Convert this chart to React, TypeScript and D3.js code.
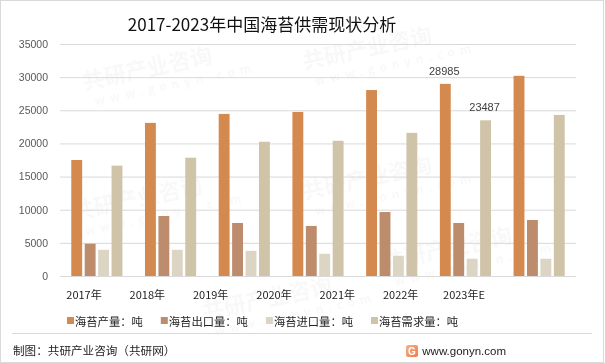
import * as d3 from "d3";
import { useEffect, useRef } from "react";

const years = ["2017年", "2018年", "2019年", "2020年", "2021年", "2022年", "2023年E"];
const seriesNames = ["海苔产量：吨", "海苔出口量：吨", "海苔进口量：吨", "海苔需求量：吨"];
const seriesColors = ["#D4894E", "#BC8C6C", "#DDD5C3", "#CFC4A8"];

const production = [17500, 23100, 24450, 24750, 28050, 28985, 30200];
const exports = [4870, 9050, 8000, 7550, 9650, 8000, 8450];
const imports = [3950, 3950, 3800, 3350, 3050, 2600, 2600];
const demand = [16650, 17850, 20250, 20400, 21600, 23487, 24300];

const yTicks = [0, 5000, 10000, 15000, 20000, 25000, 30000, 35000];
// only these two bars carry a value label in the source
const labelled = [
  { year: "2022年", series: 0 },
  { year: "2022年", series: 3 },
];

const W = 605;
const H = 363;

function App() {
  const svgRef = useRef(null);

  useEffect(() => {
    const svg = d3.select(svgRef.current);
    svg.selectAll("*").remove();

    const values = [production, exports, imports, demand];

    // faint watermark
    const wm = svg.append("g").attr("fill", "#000").attr("opacity", 0.03)
      .style("font-family", "'Noto Sans CJK SC', sans-serif").style("font-weight", "bold");
    [[80, 70], [300, 50], [70, 200], [300, 180], [380, 250], [200, 300]]
      .forEach(([x, y]) => {
        const g = wm.append("g").attr("transform", `translate(${x},${y}) rotate(-12)`);
        g.append("text").attr("x", 0).attr("y", 20).style("font-size", "22px").text("共研产业咨询");
        g.append("text").attr("x", 8).attr("y", 38).style("font-size", "12px")
          .style("letter-spacing", "5px").text("www.gonyn.com");
      });

    // border
    svg.append("rect").attr("x", 0.5).attr("y", 0.5).attr("width", W - 2).attr("height", H - 1)
      .attr("fill", "none").attr("stroke", "#d9d9d9");

    svg.append("text")
      .attr("x", 262).attr("y", 31)
      .attr("text-anchor", "middle")
      .style("font-family", "'Noto Sans CJK SC', sans-serif")
      .style("font-size", "17px")
      .attr("fill", "#111")
      .text("2017-2023年中国海苔供需现状分析");

    const xScale = d3.scaleBand().domain(years).range([60, 576]);
    const inner = d3.scaleBand()
      .domain(d3.range(4).map(String))
      .range([0, xScale.bandwidth()])
      .paddingInner(0.19)
      .paddingOuter(0.84);
    const yScale = d3.scaleLinear().domain([0, 35000]).range([276, 44]);

    const yAxis = d3.axisLeft(yScale).tickValues(yTicks).tickFormat(d3.format("d"))
      .tickSize(-(576 - 60)).tickPadding(12);
    const ya = svg.append("g").attr("transform", "translate(60,0)").call(yAxis);
    ya.select(".domain").remove();
    ya.selectAll(".tick line").attr("stroke", "#d9d9d9");
    ya.selectAll(".tick text")
      .attr("fill", "#595959")
      .style("font-family", "'Liberation Sans', Arial, sans-serif")
      .style("font-size", "10.5px");

    const groups = svg.append("g").selectAll("g").data(years).join("g")
      .attr("transform", (d) => `translate(${xScale(d)},0)`);

    groups.selectAll("rect")
      .data((d, i) => values.map((v, s) => ({ s, v: v[i] })))
      .join("rect")
      .attr("x", (d) => inner(String(d.s)))
      .attr("width", inner.bandwidth())
      .attr("y", (d) => yScale(d.v))
      .attr("height", (d) => yScale(0) - yScale(d.v))
      .attr("fill", (d) => seriesColors[d.s]);

    svg.append("g").selectAll("text").data(labelled).join("text")
      .attr("x", (d) => xScale(d.year) + inner(String(d.series)) + inner.bandwidth() / 2 - 1)
      .attr("y", (d) => yScale(values[d.series][years.indexOf(d.year)]) - 9)
      .attr("text-anchor", "middle")
      .attr("fill", "#404040")
      .style("font-family", "'Liberation Sans', Arial, sans-serif")
      .style("font-size", "11px")
      .text((d) => values[d.series][years.indexOf(d.year)]);

    // category labels sit on a tighter spacing than the bars in the source
    const labelScale = d3.scalePoint().domain(years).range([84, 464]);
    svg.append("g").selectAll("text").data(years).join("text")
      .attr("x", (d) => labelScale(d))
      .attr("y", 299)
      .attr("text-anchor", "middle")
      .attr("fill", "#222")
      .style("font-family", "'Noto Sans CJK SC', sans-serif")
      .style("font-size", "11px")
      .text((d) => d);

    // legend
    const charW = 11.3;
    let lx = 67;
    const legend = svg.append("g");
    seriesNames.forEach((name, i) => {
      legend.append("rect").attr("x", lx).attr("y", 317).attr("width", 7).attr("height", 7)
        .attr("fill", seriesColors[i]);
      legend.append("text").attr("x", lx + 8).attr("y", 325.5)
        .attr("fill", "#222")
        .style("font-family", "'Noto Sans CJK SC', sans-serif")
        .style("font-size", "11.3px")
        .text(name);
      lx += 8 + name.length * charW + 18;
    });

    svg.append("line").attr("x1", 12).attr("x2", 592).attr("y1", 333.5).attr("y2", 333.5)
      .attr("stroke", "#d9d9d9");

    svg.append("text").attr("x", 13).attr("y", 355)
      .attr("fill", "#222")
      .style("font-family", "'Noto Sans CJK SC', sans-serif")
      .style("font-size", "11.6px")
      .text("制图：共研产业咨询（共研网）");

    const grad = svg.append("defs").append("linearGradient").attr("id", "logoGrad")
      .attr("x1", 0).attr("y1", 0).attr("x2", 1).attr("y2", 1);
    grad.append("stop").attr("offset", "0%").attr("stop-color", "#F6B48A");
    grad.append("stop").attr("offset", "100%").attr("stop-color", "#EE7A4A");
    svg.append("rect").attr("x", 406).attr("y", 345).attr("width", 12).attr("height", 12)
      .attr("rx", 2).attr("fill", "url(#logoGrad)");
    svg.append("text").attr("x", 412).attr("y", 355).attr("text-anchor", "middle")
      .attr("fill", "#fff").style("font-family", "'Liberation Sans', Arial, sans-serif")
      .style("font-size", "10px").style("font-weight", "bold").text("G");

    svg.append("text").attr("x", 506).attr("y", 355).attr("text-anchor", "end")
      .attr("fill", "#222")
      .style("font-family", "'Liberation Sans', Arial, sans-serif")
      .style("font-size", "11.5px")
      .text("www.gonyn.com");
  }, []);

  return (
    <svg
      ref={svgRef}
      width={W}
      height={H}
      style={{ position: "absolute", left: 0, top: 0, background: "#fff" }}
    />
  );
}

export default App;
